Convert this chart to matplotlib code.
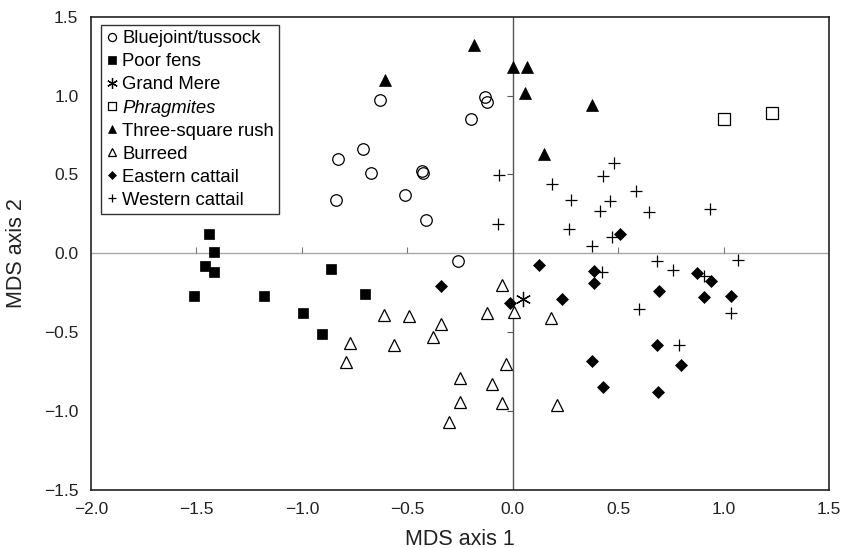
import matplotlib.pyplot as plt

plt.rcParams['font.family'] = ['Liberation Sans', 'DejaVu Sans']

# MDS scores, one pair of arrays per wetland type
bluejoint_x = [-0.63, -0.71, -0.83, -0.67, -0.51, -0.84, -0.43, -0.425, -0.41, -0.13, -0.12, -0.20, -0.26]
bluejoint_y = [0.97, 0.66, 0.60, 0.51, 0.37, 0.34, 0.52, 0.51, 0.21, 0.99, 0.96, 0.85, -0.05]

poorfen_x = [-1.44, -1.415, -1.46, -1.415, -1.51, -1.18, -0.86, -0.70, -0.995, -0.905]
poorfen_y = [0.12, 0.01, -0.08, -0.12, -0.27, -0.27, -0.10, -0.26, -0.38, -0.51]

grandmere_x = [0.05]
grandmere_y = [-0.29]

phrag_x = [1.00, 1.23]
phrag_y = [0.85, 0.89]

threesq_x = [-0.605, -0.183, 0.0, 0.067, 0.059, 0.377, 0.148]
threesq_y = [1.10, 1.32, 1.18, 1.18, 1.015, 0.94, 0.63]

burreed_x = [-0.05, -0.49, -0.34, -0.38, -0.12, 0.007, 0.18, -0.03, -0.25, -0.10,
             -0.25, -0.05, 0.21, -0.30, -0.61, -0.77, -0.565, -0.79]
burreed_y = [-0.20, -0.40, -0.45, -0.53, -0.38, -0.375, -0.41, -0.70, -0.79, -0.83,
             -0.94, -0.95, -0.96, -1.07, -0.39, -0.57, -0.58, -0.69]

eastern_x = [0.127, 0.386, 0.386, -0.34, -0.012, 0.236, 0.696, 0.872, 0.94, 0.905,
             1.036, 0.685, 0.375, 0.799, 0.429, 0.688, 0.51]
eastern_y = [-0.077, -0.111, -0.187, -0.21, -0.316, -0.29, -0.242, -0.122, -0.174, -0.28,
             -0.27, -0.58, -0.681, -0.711, -0.85, -0.882, 0.12]

western_x = [-0.066, -0.072, 0.187, 0.478, 0.426, 0.276, 0.459, 0.416, 0.587, 0.646, 0.936,
             0.268, 0.47, 0.378, 0.686, 1.068, 0.758, 0.423, 0.908, 0.597, 1.036, 0.788]
western_y = [0.497, 0.185, 0.442, 0.571, 0.487, 0.339, 0.333, 0.269, 0.394, 0.261, 0.282,
             0.153, 0.103, 0.048, -0.05, -0.041, -0.105, -0.119, -0.147, -0.352, -0.379, -0.58]

x_ticks = [-2.0, -1.5, -1.0, -0.5, 0.0, 0.5, 1.0, 1.5]
y_ticks = [-1.5, -1.0, -0.5, 0.0, 0.5, 1.0, 1.5]

fig = plt.figure(figsize=(8.42, 5.48), dpi=100)
ax = fig.add_axes([0.108, 0.106, 0.8766, 0.8636])

# crosshair through the origin
ax.axhline(0, color='#a8a8a8', lw=1.0, zorder=1)
ax.axvline(0, color='#555555', lw=1.0, zorder=1)
# little tick marks sitting on the crosshair
ax.plot([t for t in x_ticks if t not in (-2.0, 0.0, 1.5)], [0] * 5, ls='none',
        marker=2, ms=4, mew=0.8, color='#777777', zorder=1)
ax.plot([0] * 4, [t for t in y_ticks if t not in (-1.5, 0.0, 1.5)], ls='none',
        marker=0, ms=4, mew=0.8, color='#555555', zorder=1)

mew = 0.9
h_west, = ax.plot(western_x, western_y, ls='none', marker='+', ms=9, mew=mew,
                  color='black', label='Western cattail', zorder=3)
h_east, = ax.plot(eastern_x, eastern_y, ls='none', marker='D', ms=6.3, mew=0.5,
                  color='black', label='Eastern cattail', zorder=4)
h_burr, = ax.plot(burreed_x, burreed_y, ls='none', marker='^', ms=8, mew=mew,
                  mfc='white', mec='black', label='Burreed', zorder=5)
h_blue, = ax.plot(bluejoint_x, bluejoint_y, ls='none', marker='o', ms=8.3, mew=mew,
                  mfc='none', mec='black', label='Bluejoint/tussock', zorder=5)
h_poor, = ax.plot(poorfen_x, poorfen_y, ls='none', marker='s', ms=7.8, mew=0.5,
                  color='black', label='Poor fens', zorder=5)
h_gm, = ax.plot(grandmere_x, grandmere_y, ls='none', marker=(6, 2, 0), ms=11, mew=mew,
                color='black', label='Grand Mere', zorder=5)
h_phr, = ax.plot(phrag_x, phrag_y, ls='none', marker='s', ms=8, mew=mew,
                 mfc='none', mec='black', label='Phragmites', zorder=5)
h_three, = ax.plot(threesq_x, threesq_y, ls='none', marker='^', ms=8, mew=0.5,
                   color='black', label='Three-square rush', zorder=5)

ax.set_xlim(-2.0, 1.5)
ax.set_ylim(-1.5, 1.5)
ax.set_xticks(x_ticks)
ax.set_yticks(y_ticks)
ax.set_xticklabels([f'{t:.1f}'.replace('-', '\u2212') for t in x_ticks])
ax.set_yticklabels([f'{t:.1f}'.replace('-', '\u2212') for t in y_ticks])
ax.tick_params(length=0, pad=9, labelsize=12.5, colors='#222222')
for s in ax.spines.values():
    s.set_linewidth(1.2)
    s.set_color('#222222')

ax.set_xlabel('MDS axis 1', fontsize=15.5, labelpad=8, color='#222222')
ax.set_ylabel('MDS axis 2', fontsize=15.5, labelpad=12, color='#222222')

handles = [h_blue, h_poor, h_gm, h_phr, h_three, h_burr, h_east, h_west]
leg = ax.legend(handles=handles, loc='upper left', bbox_to_anchor=(0.0135, 0.983),
                fontsize=13.3, numpoints=1, markerscale=0.7, frameon=True,
                fancybox=False, edgecolor='#333333', framealpha=1,
                handlelength=0.55, handletextpad=0.3, labelspacing=0.33,
                borderpad=0.3, borderaxespad=0)
leg.get_frame().set_linewidth(1.0)
leg.get_texts()[3].set_style('italic')

fig.savefig('out.png', dpi=100)
